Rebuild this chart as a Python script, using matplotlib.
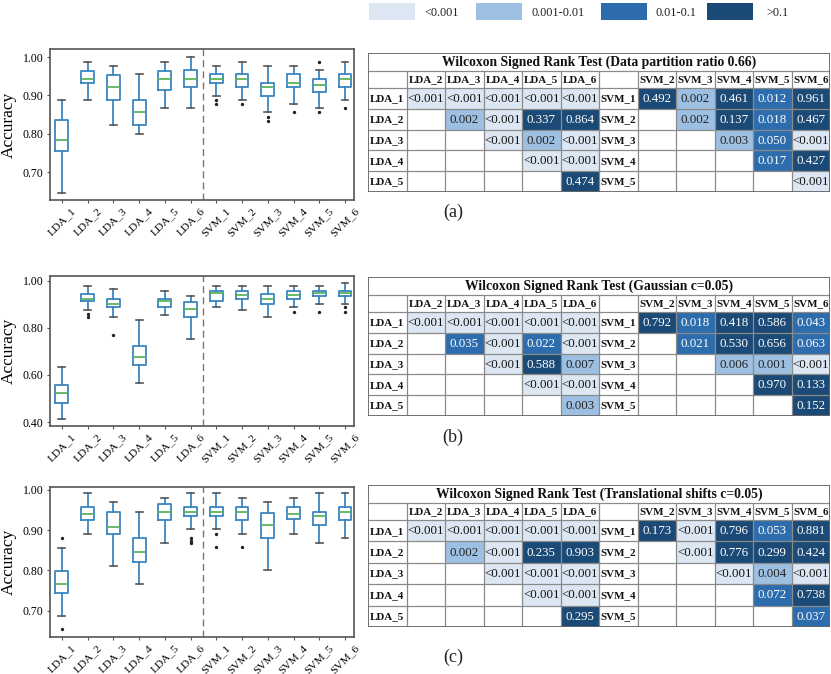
import matplotlib
matplotlib.use('Agg')
import matplotlib.pyplot as plt
from matplotlib.patches import Rectangle

plt.rcParams['font.family'] = ['Liberation Serif', 'DejaVu Serif']

models = ['LDA_1', 'LDA_2', 'LDA_3', 'LDA_4', 'LDA_5', 'LDA_6',
          'SVM_1', 'SVM_2', 'SVM_3', 'SVM_4', 'SVM_5', 'SVM_6']

# ---------------- boxplot summaries ----------------
# (a) Data partition ratio 0.66
a_whishi = [0.888, 0.987, 0.977, 0.956, 0.987, 0.999, 0.977, 0.987, 0.977, 0.977, 0.965, 0.987]
a_q3 = [0.837, 0.963, 0.953, 0.888, 0.963, 0.965, 0.956, 0.956, 0.932, 0.956, 0.942, 0.956]
a_med = [0.783, 0.943, 0.921, 0.856, 0.943, 0.943, 0.943, 0.943, 0.921, 0.932, 0.927, 0.943]
a_q1 = [0.755, 0.932, 0.888, 0.824, 0.913, 0.922, 0.932, 0.923, 0.899, 0.922, 0.910, 0.922]
a_whislo = [0.644, 0.888, 0.822, 0.799, 0.866, 0.866, 0.899, 0.888, 0.856, 0.877, 0.866, 0.888]
a_fliers = [[], [], [], [], [], [], [0.888, 0.877], [0.877], [0.843, 0.832], [0.856],
            [0.988, 0.856], [0.866]]

# (b) Gaussian c=0.05
b_whishi = [0.632, 0.979, 0.966, 0.835, 0.956, 0.935, 0.979, 0.979, 0.979, 0.979, 0.979, 0.990]
b_q3 = [0.556, 0.946, 0.924, 0.725, 0.924, 0.910, 0.956, 0.956, 0.946, 0.956, 0.956, 0.956]
b_med = [0.522, 0.925, 0.901, 0.676, 0.914, 0.880, 0.948, 0.939, 0.924, 0.939, 0.948, 0.948]
b_q1 = [0.479, 0.914, 0.891, 0.642, 0.891, 0.847, 0.915, 0.924, 0.904, 0.924, 0.935, 0.935]
b_whislo = [0.414, 0.878, 0.845, 0.567, 0.857, 0.755, 0.890, 0.878, 0.845, 0.890, 0.901, 0.901]
b_fliers = [[], [0.859, 0.847], [0.768], [], [], [], [], [], [], [0.869], [0.869],
            [0.890, 0.869]]

# (c) Translational shifts c=0.05
c_whishi = [0.855, 0.992, 0.969, 0.946, 0.979, 0.992, 0.992, 0.979, 0.969, 0.979, 0.992, 0.992]
c_q3 = [0.798, 0.957, 0.946, 0.880, 0.966, 0.957, 0.957, 0.957, 0.942, 0.957, 0.946, 0.957]
c_med = [0.766, 0.940, 0.907, 0.845, 0.946, 0.946, 0.946, 0.946, 0.912, 0.940, 0.935, 0.946]
c_q1 = [0.744, 0.926, 0.890, 0.822, 0.926, 0.935, 0.935, 0.926, 0.880, 0.927, 0.912, 0.926]
c_whislo = [0.686, 0.890, 0.812, 0.767, 0.868, 0.902, 0.902, 0.890, 0.800, 0.890, 0.868, 0.880]
c_fliers = [[0.880, 0.655], [], [], [], [], [0.880, 0.874, 0.867], [0.890, 0.857], [0.857],
            [], [], [], []]

a_yticks = [0.70, 0.80, 0.90, 1.00]
b_yticks = [0.40, 0.60, 0.80, 1.00]
c_yticks = [0.70, 0.80, 0.90, 1.00]

# ---------------- Wilcoxon tables ----------------
lda_cols = ['LDA_2', 'LDA_3', 'LDA_4', 'LDA_5', 'LDA_6']
svm_cols = ['SVM_2', 'SVM_3', 'SVM_4', 'SVM_5', 'SVM_6']
lda_rows = ['LDA_1', 'LDA_2', 'LDA_3', 'LDA_4', 'LDA_5']
svm_rows = ['SVM_1', 'SVM_2', 'SVM_3', 'SVM_4', 'SVM_5']

a_title = 'Wilcoxon Signed Rank Test (Data partition ratio 0.66)'
a_lda = [['<0.001', '<0.001', '<0.001', '<0.001', '<0.001'],
         ['0.002', '<0.001', '0.337', '0.864'],
         ['<0.001', '0.002', '<0.001'],
         ['<0.001', '<0.001'],
         ['0.474']]
a_svm = [['0.492', '0.002', '0.461', '0.012', '0.961'],
         ['0.002', '0.137', '0.018', '0.467'],
         ['0.003', '0.050', '<0.001'],
         ['0.017', '0.427'],
         ['<0.001']]

b_title = 'Wilcoxon Signed Rank Test (Gaussian c=0.05)'
b_lda = [['<0.001', '<0.001', '<0.001', '<0.001', '<0.001'],
         ['0.035', '<0.001', '0.022', '<0.001'],
         ['<0.001', '0.588', '0.007'],
         ['<0.001', '<0.001'],
         ['0.003']]
b_svm = [['0.792', '0.018', '0.418', '0.586', '0.043'],
         ['0.021', '0.530', '0.656', '0.063'],
         ['0.006', '0.001', '<0.001'],
         ['0.970', '0.133'],
         ['0.152']]

c_title = 'Wilcoxon Signed Rank Test (Translational shifts c=0.05)'
c_lda = [['<0.001', '<0.001', '<0.001', '<0.001', '<0.001'],
         ['0.002', '<0.001', '0.235', '0.903'],
         ['<0.001', '<0.001', '<0.001'],
         ['<0.001', '<0.001'],
         ['0.295']]
c_svm = [['0.173', '<0.001', '0.796', '0.053', '0.881'],
         ['<0.001', '0.776', '0.299', '0.424'],
         ['<0.001', '0.004', '<0.001'],
         ['0.072', '0.738'],
         ['0.037']]

legend_labels = ['<0.001', '0.001-0.01', '0.01-0.1', '>0.1']
level_colors = ['#dce7f3', '#9dc0e2', '#2e6dad', '#1c4a76']
level_text = ['#111111', '#222222', 'white', 'white']
sub_labels = ['(a)', '(b)', '(c)']

W, H = 831, 674
fig = plt.figure(figsize=(W / 100, H / 100), dpi=100)


def fx(px):
    return px / W


def fy(py):
    return 1 - py / H


BOX_C = '#3a86c0'


def draw_box(rect, whishi, q3, med, q1, whislo, fliers, ylim, yticks):
    ax = fig.add_axes(rect)
    stats = []
    for i in range(len(models)):
        stats.append(dict(med=med[i], q1=q1[i], q3=q3[i], whislo=whislo[i],
                          whishi=whishi[i], fliers=fliers[i], label=models[i]))
    ax.bxp(stats, positions=range(1, len(models) + 1), widths=0.5,
           boxprops=dict(color=BOX_C, linewidth=1.3),
           whiskerprops=dict(color=BOX_C, linewidth=1.3),
           capprops=dict(color='#555555', linewidth=1.2),
           medianprops=dict(color='#5cb45c', linewidth=1.3),
           flierprops=dict(marker='o', markersize=1.4, markerfacecolor='#222222',
                           markeredgecolor='#222222'),
           capwidths=0.27)
    ax.axvline(6.5, color='#777777', linestyle=(0, (5, 3)), linewidth=1)
    ax.set_xlim(0.52, 12.35)
    ax.set_ylim(*ylim)
    ax.set_yticks(yticks)
    ax.set_yticklabels(['%.2f' % t for t in yticks], fontsize=8.5)
    ax.set_xticks(range(1, len(models) + 1))
    ax.set_xticklabels(models, rotation=45, fontsize=8.2)
    ax.tick_params(length=2.5, width=0.8, color='#555555', pad=2)
    for s in ax.spines.values():
        s.set_color('#555555')
        s.set_linewidth(1.2)
    ax.set_ylabel('Accuracy', fontsize=12.5, labelpad=4)
    return ax


def level_of(v):
    if v.startswith('<'):
        return 0
    x = float(v)
    if x < 0.01:
        return 1
    if x < 0.1:
        return 2
    return 3


def draw_table(top_px, bottom_px, title, lda, svm):
    left_px, right_px = 368, 830
    ax = fig.add_axes([fx(left_px), fy(bottom_px), fx(right_px - left_px),
                       (bottom_px - top_px) / H])
    total = bottom_px - top_px
    title_h, head_h = 18.0, 17.0
    row_h = (total - title_h - head_h) / 5
    ax.set_xlim(0, 12)
    ax.set_ylim(total, 0)
    ax.axis('off')
    ybounds = [0, title_h, title_h + head_h] + [title_h + head_h + row_h * (k + 1) for k in range(5)]
    for block, offset in ((lda, 1), (svm, 7)):
        for r, row in enumerate(block):
            for k, v in enumerate(row):
                c = offset + r + k
                lvl = level_of(v)
                y0 = ybounds[2 + r]
                ax.add_patch(Rectangle((c, y0), 1, row_h, facecolor=level_colors[lvl],
                                       edgecolor='none', zorder=1))
                ax.text(c + 0.5, y0 + row_h / 2 + 0.6, v, ha='center', va='center',
                        fontsize=9.3, color=level_text[lvl], zorder=4)
    gc = '#8a8a8a'
    for yb in ybounds[1:-1]:
        ax.plot([0, 12], [yb, yb], color=gc, lw=0.9, zorder=3, solid_capstyle='butt')
    for xc in range(1, 12):
        ax.plot([xc, xc], [title_h, total], color=gc, lw=0.9, zorder=3, solid_capstyle='butt')
    ax.add_patch(Rectangle((0, 0), 12, total, facecolor='none', edgecolor='#666666',
                           lw=1.3, zorder=5))
    ax.text(6, title_h / 2 + 0.5, title, ha='center', va='center', fontsize=9.8,
            fontweight='bold', color='#111111')
    for k, lab in enumerate(lda_cols):
        ax.text(1 + k + 0.5, title_h + head_h / 2 + 0.5, lab, ha='center', va='center',
                fontsize=7.9, fontweight='bold', color='#111111')
    for k, lab in enumerate(svm_cols):
        ax.text(7 + k + 0.5, title_h + head_h / 2 + 0.5, lab, ha='center', va='center',
                fontsize=7.9, fontweight='bold', color='#111111')
    for r in range(5):
        yc = ybounds[2 + r] + row_h / 2 + 0.5
        ax.text(0.5, yc, lda_rows[r], ha='center', va='center', fontsize=7.9,
                fontweight='bold', color='#111111', zorder=4)
        ax.text(6.5, yc, svm_rows[r], ha='center', va='center', fontsize=7.9,
                fontweight='bold', color='#111111', zorder=4)
    return ax


draw_box([fx(49.5), fy(200), fx(304.5), 151 / H], a_whishi, a_q3, a_med, a_q1, a_whislo,
         a_fliers, (0.627, 1.021), a_yticks)
draw_box([fx(49.5), fy(426), fx(304.5), 150 / H], b_whishi, b_q3, b_med, b_q1, b_whislo,
         b_fliers, (0.383, 1.021), b_yticks)
draw_box([fx(49.5), fy(637), fx(304.5), 150 / H], c_whishi, c_q3, c_med, c_q1, c_whislo,
         c_fliers, (0.635, 1.007), c_yticks)

draw_table(53, 192, a_title, a_lda, a_svm)
draw_table(277, 416, b_title, b_lda, b_svm)
draw_table(485, 627, c_title, c_lda, c_svm)

for lab, ypx in zip(sub_labels, (212, 437, 657)):
    fig.text(fx(453), fy(ypx), lab, ha='center', va='center', fontsize=13, color='#222222')

patch_x = [369, 476, 601, 707]
text_x = [424, 531, 655, 766]
for i, lab in enumerate(legend_labels):
    fig.add_artist(Rectangle((fx(patch_x[i]), fy(20)), fx(46), 17 / H,
                             transform=fig.transFigure, facecolor=level_colors[i],
                             edgecolor='none'))
    fig.text(fx(text_x[i]), fy(12.5), lab, ha='left', va='center', fontsize=8.8,
             color='#222222')

fig.savefig('out.png', dpi=100)
